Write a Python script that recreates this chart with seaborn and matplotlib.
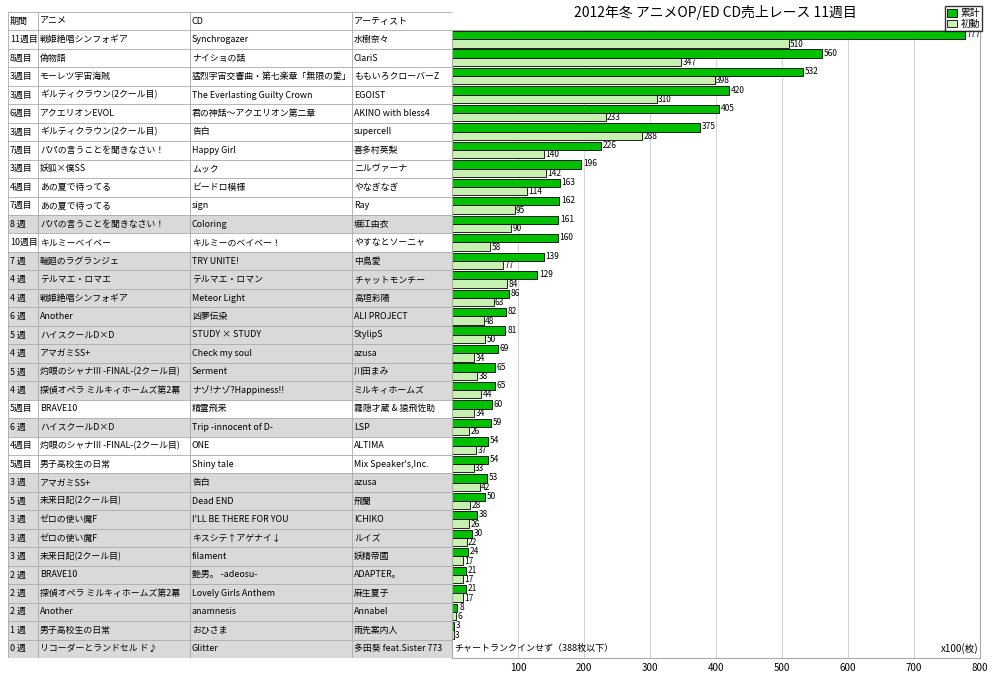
import pandas as pd
import seaborn as sns
import matplotlib.pyplot as plt
from matplotlib.patches import Rectangle

periods = ["11週目", "8週目", "3週目", "3週目", "6週目", "3週目", "7週目", "3週目", "4週目", "7週目",
           "8 週", "10週目", "7 週", "4 週", "4 週", "6 週", "5 週", "4 週", "5 週", "4 週",
           "5週目", "6 週", "4週目", "5週目", "3 週", "5 週", "3 週", "3 週", "3 週", "2 週",
           "2 週", "2 週", "1 週", "0 週"]
animes = ["戦姫絶唱シンフォギア", "偽物語", "モーレツ宇宙海賊", "ギルティクラウン(2クール目)", "アクエリオンEVOL",
          "ギルティクラウン(2クール目)", "パパの言うことを聞きなさい！", "妖狐×僕SS", "あの夏で待ってる", "あの夏で待ってる",
          "パパの言うことを聞きなさい！", "キルミーベイベー", "輪廻のラグランジェ", "テルマエ・ロマエ", "戦姫絶唱シンフォギア",
          "Another", "ハイスクールD×D", "アマガミSS+", "灼眼のシャナIII -FINAL-(2クール目)", "探偵オペラ ミルキィホームズ第2幕",
          "BRAVE10", "ハイスクールD×D", "灼眼のシャナIII -FINAL-(2クール目)", "男子高校生の日常", "アマガミSS+",
          "未来日記(2クール目)", "ゼロの使い魔F", "ゼロの使い魔F", "未来日記(2クール目)", "BRAVE10",
          "探偵オペラ ミルキィホームズ第2幕", "Another", "男子高校生の日常", "リコーダーとランドセル ド♪"]
cds = ["Synchrogazer", "ナイショの話", "猛烈宇宙交響曲・第七楽章「無限の愛」", "The Everlasting Guilty Crown",
       "君の神話～アクエリオン第二章", "告白", "Happy Girl", "ムック", "ビードロ模様", "sign", "Coloring",
       "キルミーのベイベー！", "TRY UNITE!", "テルマエ・ロマン", "Meteor Light", "凶夢伝染", "STUDY × STUDY",
       "Check my soul", "Serment", "ナゾ!ナゾ?Happiness!!", "精霊飛来", "Trip -innocent of D-", "ONE",
       "Shiny tale", "告白", "Dead END", "I'LL BE THERE FOR YOU", "キスシテ↑アゲナイ↓", "filament",
       "艶男。 -adeosu-", "Lovely Girls Anthem", "anamnesis", "おひさま", "Glitter"]
artists = ["水樹奈々", "ClariS", "ももいろクローバーZ", "EGOIST", "AKINO with bless4", "supercell", "喜多村英梨",
           "ニルヴァーナ", "やなぎなぎ", "Ray", "堀江由衣", "やすなとソーニャ", "中島愛", "チャットモンチー", "高垣彩陽",
           "ALI PROJECT", "StylipS", "azusa", "川田まみ", "ミルキィホームズ", "霧隠才蔵 & 猿飛佐助", "LSP", "ALTIMA",
           "Mix Speaker's,Inc.", "azusa", "飛蘭", "ICHIKO", "ルイズ", "妖精帝國", "ADAPTER。", "麻生夏子",
           "Annabel", "雨先案内人", "多田葵 feat.Sister 773"]
total = [777, 560, 532, 420, 405, 375, 226, 196, 163, 162, 161, 160, 139, 129, 86, 82, 81, 69, 65, 65,
         60, 59, 54, 54, 53, 50, 38, 30, 24, 21, 21, 8, 3, None]
first = [510, 347, 398, 310, 233, 288, 140, 142, 114, 95, 90, 58, 77, 84, 63, 48, 50, 34, 38, 44,
         34, 26, 37, 33, 42, 28, 26, 22, 17, 17, 17, 6, 3, None]

plt.rcParams['font.family'] = ['Noto Sans CJK JP', 'DejaVu Sans']
n = len(periods)
fig = plt.figure(figsize=(10, 6.81), dpi=100)

# left table
tab = fig.add_axes([0.008, 1 - 658 / 681, 0.444, 646 / 681])
tab.set_xlim(8, 452)
tab.set_ylim(n + 1, 0)
tab.axis("off")
cols = [8, 38, 190, 352, 452]
header = ["期間", "アニメ", "CD", "アーティスト"]
for j, h in enumerate(header):
    tab.text(cols[j] + 2, 0.5, h, va="center", fontsize=6.5)
for i in range(n):
    y = i + 1
    if "週目" not in periods[i]:
        tab.add_patch(Rectangle((8, y), 444, 1, color="#d9d9d9", lw=0))
    for j, v in enumerate([periods[i], animes[i], cds[i], artists[i]]):
        tab.text(cols[j] + 2, y + 0.5, v, va="center", fontsize=6.4)
for k in range(n + 2):
    tab.plot([8, 452], [k, k], color="#aaaaaa", lw=0.6)
for c in cols:
    tab.plot([c, c], [0, n + 1], color="#aaaaaa", lw=0.6)

# bar chart
ax = fig.add_axes([0.452, 1 - 658 / 681, 0.528, 628 / 681])
df = pd.DataFrame({"row": list(range(n)) * 2,
                   "kind": ["累計"] * n + ["初動"] * n,
                   "value": total + first})
sns.barplot(data=df, y="row", x="value", hue="kind", hue_order=["累計", "初動"],
            palette=["#00c000", "#c8f0b0"], saturation=1, orient="h", width=0.9, dodge=True,
            edgecolor="black", linewidth=0.6, legend=False, ax=ax)
ax.set_xlim(0, 800)
ax.set_ylim(n - 0.5, -0.5)
ax.set_xticks([100, 200, 300, 400, 500, 600, 700, 800])
ax.set_yticks([])
ax.set_xlabel("")
ax.set_ylabel("")
ax.tick_params(axis="x", labelsize=7, length=0)
ax.grid(axis="x", color="#cccccc", lw=0.6)
ax.set_axisbelow(True)
for s in ax.spines.values():
    s.set_color("#aaaaaa")
for i in range(n):
    if total[i] is not None:
        ax.text(total[i] + 3, i - 0.25, str(total[i]), fontsize=6, va="center")
        ax.text(first[i] + 2, i + 0.26, str(first[i]), fontsize=6, va="center")
ax.text(3, n - 1, "チャートランクインせず（388枚以下）", fontsize=6.5, va="center")
ax.text(797, n - 1, "x100(枚)", fontsize=7, va="center", ha="right")

fig.text(0.715, 0.982, "2012年冬 アニメOP/ED CD売上レース 11週目", fontsize=10, ha="center", va="center")
fig.legend(handles=[Rectangle((0, 0), 1, 1, fc="#00c000", ec="black", lw=0.6),
                    Rectangle((0, 0), 1, 1, fc="#c8f0b0", ec="black", lw=0.6)],
           labels=["累計", "初動"], loc="upper right", bbox_to_anchor=(0.987, 0.998),
           fontsize=7, handlelength=1, handleheight=0.8, labelspacing=0.1,
           borderpad=0.2, handletextpad=0.4, fancybox=False, edgecolor="black")
fig.savefig("out.png", dpi=100)
